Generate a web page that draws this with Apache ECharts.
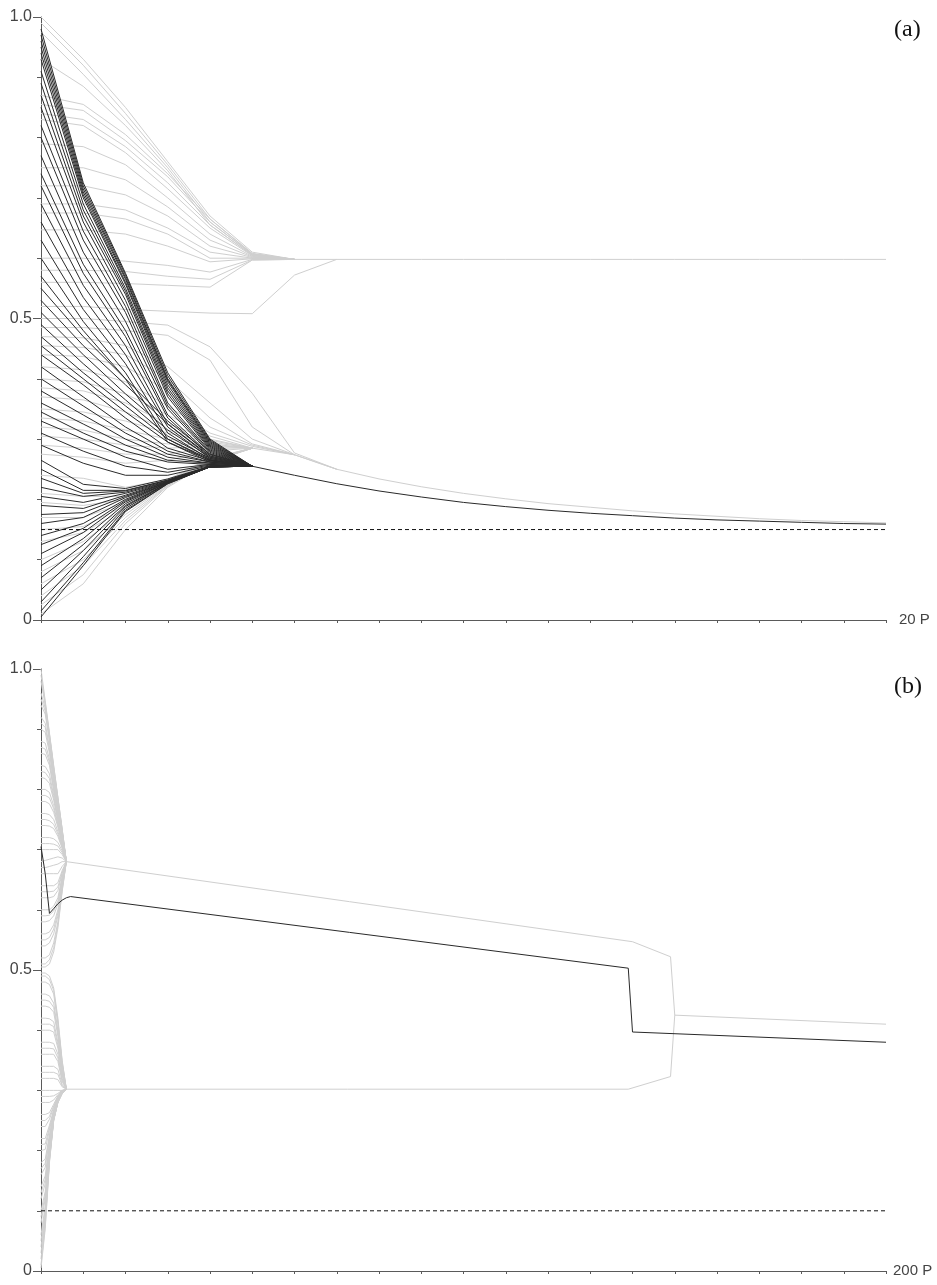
<!DOCTYPE html>
<html>
<head>
<meta charset="utf-8">
<style>
html,body{margin:0;padding:0;background:#fff;}
#chart{width:937px;height:1285px;}
</style>
<script src="https://cdn.jsdelivr.net/npm/echarts@6/dist/echarts.min.js"></script>
</head>
<body>
<div id="chart"></div>
<script>
// ---------------- Panel (a): 20 periods ----------------
const periodsA = 20;
const truthA = 0.15;
const endLabelA = '20 P';
const panelLabelA = '(a)';

// shared tails (index = period)
const upperTailA = [null,null,null,null,null,null,0.598,0.598,0.598,0.598,0.598,0.598,0.598,0.598,0.598,0.598,0.598,0.598,0.598,0.598,0.598];
const blackTailA = [null,null,null,null,null,0.255,0.240,0.226,0.214,0.204,0.195,0.188,0.182,0.177,0.173,0.169,0.166,0.164,0.162,0.160,0.159];
const grayTailA  = [null,null,null,null,null,0.285,0.274,0.250,0.234,0.221,0.210,0.201,0.193,0.187,0.181,0.176,0.172,0.168,0.165,0.163,0.161];

// gray agents converging to the upper cluster
const grayUpperA = [
  [1.00,0.93,0.85,0.76,0.67,0.61],
  [0.99,0.92,0.84,0.755,0.665,0.607],
  [0.975,0.905,0.83,0.75,0.66,0.606],
  [0.93,0.885,0.82,0.745,0.655,0.605],
  [0.87,0.855,0.805,0.74,0.665,0.608],
  [0.855,0.845,0.795,0.735,0.66,0.607],
  [0.84,0.83,0.785,0.725,0.655,0.605],
  [0.83,0.82,0.775,0.715,0.65,0.604],
  [0.79,0.785,0.755,0.70,0.64,0.603],
  [0.75,0.75,0.73,0.685,0.63,0.602],
  [0.72,0.72,0.705,0.67,0.62,0.601],
  [0.69,0.69,0.68,0.65,0.61,0.60],
  [0.675,0.675,0.665,0.64,0.60,0.60],
  [0.647,0.647,0.64,0.62,0.594,0.599],
  [0.60,0.60,0.595,0.588,0.577,0.598],
  [0.58,0.58,0.578,0.57,0.565,0.597],
  [0.56,0.56,0.558,0.555,0.552,0.597],
  [0.52,0.52,0.515,0.512,0.509,0.508,0.572]
];
// gray agents joining the lower (truth-seeker) cluster from above
const grayMidA = [
  [0.50,0.50,0.495,0.489,0.453,0.376,0.277],
  [0.485,0.485,0.48,0.472,0.431,0.32,0.274],
  [0.47,0.468,0.455,0.42,0.36,0.30],
  [0.455,0.452,0.44,0.40,0.335,0.292],
  [0.44,0.437,0.42,0.38,0.32,0.29],
  [0.42,0.415,0.395,0.355,0.31,0.288],
  [0.40,0.395,0.375,0.34,0.305],
  [0.385,0.38,0.36,0.325,0.30],
  [0.37,0.365,0.345,0.315,0.298],
  [0.35,0.345,0.33,0.31,0.295],
  [0.335,0.33,0.315,0.30,0.292],
  [0.32,0.315,0.30,0.292,0.29],
  [0.305,0.30,0.29,0.285,0.288],
  [0.29,0.285,0.275,0.275,0.285],
  [0.275,0.27,0.26,0.265,0.28]
];
// gray agents joining from below
const grayLowA = [
  [0.01,0.06,0.15,0.22,0.262],
  [0.025,0.075,0.16,0.222,0.262],
  [0.04,0.09,0.165,0.223,0.263],
  [0.06,0.10,0.17,0.224,0.263],
  [0.08,0.115,0.175,0.225,0.264],
  [0.10,0.13,0.18,0.226,0.264],
  [0.13,0.145,0.185,0.227,0.265],
  [0.15,0.155,0.19,0.228,0.265],
  [0.17,0.17,0.195,0.229,0.266],
  [0.195,0.19,0.20,0.23,0.266],
  [0.21,0.205,0.205,0.231,0.267],
  [0.24,0.235,0.22,0.233,0.268]
];
// truth seekers
const blackHighA = [
  [0.98,0.725,0.575,0.41,0.30],
  [0.97,0.72,0.572,0.405,0.298],
  [0.96,0.715,0.568,0.40,0.296],
  [0.95,0.71,0.565,0.398,0.294],
  [0.94,0.705,0.56,0.395,0.292],
  [0.93,0.70,0.557,0.39,0.29],
  [0.91,0.69,0.55,0.385,0.288],
  [0.89,0.68,0.545,0.38,0.286],
  [0.87,0.67,0.54,0.375,0.284],
  [0.85,0.66,0.53,0.37,0.282],
  [0.82,0.645,0.52,0.36,0.28],
  [0.80,0.63,0.51,0.355,0.278],
  [0.77,0.61,0.495,0.35,0.276],
  [0.74,0.59,0.48,0.34,0.274],
  [0.72,0.575,0.47,0.335,0.272],
  [0.69,0.555,0.455,0.325,0.27],
  [0.66,0.535,0.44,0.32,0.268],
  [0.63,0.515,0.425,0.31,0.266],
  [0.60,0.495,0.41,0.30,0.264],
  [0.57,0.48,0.40,0.295,0.262]
];
const blackMidA = [
  [0.55,0.47,0.40,0.33,0.275],
  [0.53,0.455,0.39,0.325,0.272],
  [0.51,0.44,0.375,0.315,0.27],
  [0.49,0.425,0.365,0.305,0.268],
  [0.47,0.41,0.355,0.30,0.266],
  [0.455,0.40,0.345,0.295,0.265],
  [0.44,0.39,0.335,0.285,0.264],
  [0.42,0.37,0.32,0.28,0.262],
  [0.40,0.355,0.31,0.275,0.262],
  [0.38,0.34,0.30,0.27,0.26],
  [0.36,0.325,0.29,0.265,0.26],
  [0.345,0.31,0.28,0.262,0.258],
  [0.33,0.30,0.27,0.25,0.258],
  [0.31,0.28,0.255,0.245,0.257],
  [0.29,0.26,0.24,0.24,0.256]
];
const blackLowA = [
  [0.005,0.09,0.18,0.226,0.254],
  [0.015,0.095,0.182,0.226,0.254],
  [0.03,0.105,0.185,0.227,0.254],
  [0.05,0.115,0.188,0.227,0.254],
  [0.07,0.125,0.19,0.227,0.254],
  [0.09,0.135,0.193,0.228,0.254],
  [0.11,0.145,0.196,0.228,0.254],
  [0.125,0.152,0.198,0.228,0.254],
  [0.14,0.16,0.20,0.229,0.254],
  [0.16,0.17,0.203,0.229,0.254],
  [0.175,0.178,0.205,0.229,0.254],
  [0.19,0.185,0.207,0.23,0.254],
  [0.205,0.195,0.21,0.23,0.255],
  [0.22,0.205,0.212,0.231,0.255],
  [0.235,0.21,0.214,0.232,0.255],
  [0.25,0.215,0.215,0.232,0.255],
  [0.265,0.225,0.218,0.234,0.255]
];

// ---------------- Panel (b): 200 periods ----------------
const periodsB = 200;
const truthB = 0.1;
const endLabelB = '200 P';
const panelLabelB = '(b)';

const upperTailBx = [6,140,149,150,200];
const upperTailBy = [0.68,0.547,0.522,0.425,0.41];
const lowerTailBx = [6,139,149,150];
const lowerTailBy = [0.302,0.302,0.323,0.425];
const seekerBx = [0,1,2,3,4,5,6,7,139,140,200];
const seekerBy = [0.705,0.66,0.594,0.602,0.61,0.616,0.62,0.622,0.503,0.397,0.38];

const grayUpperB = [
  [1.00,0.947,0.894,0.84,0.787,0.735],
  [0.99,0.944,0.892,0.838,0.786,0.734],
  [0.98,0.94,0.89,0.835,0.785,0.733],
  [0.96,0.935,0.885,0.83,0.78,0.73],
  [0.95,0.93,0.883,0.828,0.778,0.729],
  [0.94,0.925,0.88,0.826,0.776,0.728],
  [0.92,0.91,0.87,0.82,0.772,0.726],
  [0.91,0.903,0.866,0.816,0.77,0.725],
  [0.90,0.895,0.86,0.812,0.768,0.724],
  [0.88,0.877,0.85,0.805,0.763,0.722],
  [0.87,0.867,0.845,0.80,0.76,0.721],
  [0.86,0.858,0.84,0.798,0.758,0.72],
  [0.84,0.838,0.826,0.79,0.753,0.718],
  [0.83,0.828,0.818,0.786,0.75,0.716],
  [0.82,0.818,0.81,0.782,0.748,0.715],
  [0.80,0.80,0.795,0.773,0.743,0.712],
  [0.79,0.79,0.786,0.768,0.74,0.71],
  [0.78,0.78,0.776,0.762,0.737,0.709],
  [0.76,0.76,0.758,0.75,0.73,0.706],
  [0.75,0.75,0.748,0.742,0.726,0.704],
  [0.74,0.74,0.739,0.735,0.722,0.702],
  [0.72,0.72,0.72,0.718,0.712,0.698],
  [0.71,0.71,0.71,0.709,0.706,0.695],
  [0.70,0.70,0.70,0.70,0.70,0.692],
  [0.68,0.682,0.684,0.686,0.688,0.686],
  [0.67,0.67,0.672,0.674,0.676,0.68],
  [0.66,0.66,0.66,0.66,0.66,0.672],
  [0.64,0.64,0.64,0.64,0.645,0.665],
  [0.63,0.63,0.63,0.631,0.638,0.662],
  [0.62,0.62,0.62,0.622,0.632,0.66],
  [0.60,0.60,0.60,0.606,0.62,0.655],
  [0.59,0.59,0.591,0.598,0.615,0.652],
  [0.58,0.58,0.582,0.59,0.61,0.65],
  [0.56,0.56,0.563,0.575,0.60,0.645],
  [0.55,0.55,0.554,0.568,0.595,0.642],
  [0.54,0.54,0.545,0.56,0.59,0.64],
  [0.52,0.52,0.525,0.545,0.58,0.635],
  [0.51,0.51,0.517,0.537,0.575,0.632],
  [0.505,0.505,0.51,0.53,0.57,0.63]
];
const grayLowerB = [
  [0.495,0.495,0.49,0.47,0.42,0.35],
  [0.49,0.49,0.484,0.466,0.415,0.348],
  [0.48,0.48,0.476,0.46,0.41,0.345],
  [0.46,0.46,0.457,0.445,0.40,0.34],
  [0.45,0.45,0.448,0.438,0.395,0.337],
  [0.44,0.44,0.438,0.43,0.39,0.335],
  [0.42,0.42,0.419,0.414,0.38,0.33],
  [0.41,0.41,0.41,0.406,0.375,0.327],
  [0.40,0.40,0.40,0.397,0.37,0.325],
  [0.38,0.38,0.38,0.378,0.36,0.32],
  [0.37,0.37,0.37,0.369,0.354,0.317],
  [0.36,0.36,0.36,0.36,0.348,0.315],
  [0.34,0.34,0.34,0.34,0.335,0.31],
  [0.33,0.33,0.33,0.33,0.327,0.308],
  [0.32,0.32,0.32,0.32,0.318,0.306],
  [0.30,0.30,0.30,0.30,0.30,0.30],
  [0.29,0.29,0.29,0.291,0.295,0.30],
  [0.28,0.28,0.28,0.284,0.293,0.299],
  [0.26,0.26,0.263,0.277,0.291,0.299],
  [0.25,0.25,0.257,0.274,0.29,0.299],
  [0.24,0.24,0.252,0.272,0.289,0.298],
  [0.22,0.22,0.242,0.268,0.288,0.298],
  [0.21,0.211,0.238,0.266,0.287,0.298],
  [0.20,0.202,0.234,0.265,0.287,0.298],
  [0.18,0.186,0.226,0.262,0.286,0.297],
  [0.17,0.179,0.222,0.261,0.285,0.297],
  [0.16,0.172,0.218,0.26,0.285,0.297],
  [0.14,0.158,0.211,0.258,0.284,0.297],
  [0.13,0.152,0.208,0.257,0.284,0.297],
  [0.12,0.145,0.205,0.256,0.283,0.296],
  [0.10,0.132,0.20,0.255,0.283,0.296],
  [0.09,0.126,0.198,0.254,0.282,0.296],
  [0.08,0.12,0.196,0.254,0.282,0.296],
  [0.06,0.108,0.192,0.253,0.282,0.296],
  [0.05,0.102,0.19,0.252,0.281,0.295],
  [0.04,0.095,0.188,0.252,0.281,0.295],
  [0.03,0.088,0.186,0.251,0.281,0.295],
  [0.02,0.082,0.184,0.251,0.28,0.295],
  [0.01,0.075,0.182,0.25,0.28,0.295],
  [0.005,0.07,0.18,0.25,0.28,0.295]
];

const yTickLabels = {'0':'0','0.5':'0.5','1':'1.0'};

// ---------------- build ----------------
const GRAY = '#cfcfcf';
const BLACK = '#2a2a2a';
const AXIS = '#5a5a5a';
const FONT = '"Liberation Sans", Arial, sans-serif';

function headToTail(head, tail) {
  const pts = head.map((v, i) => [i, v]);
  const k = head.length;
  pts.push([k, tail[k]]);
  return pts;
}
function headToPoint(head, jx, jy) {
  const pts = head.map((v, i) => [i, v]);
  pts.push([jx, jy]);
  return pts;
}
function tailPts(tail) {
  return tail.map((v, i) => [i, v]).filter(p => p[1] != null);
}
function zip(xs, ys) { return xs.map((x, i) => [x, ys[i]]); }

const series = [];
function addLine(grid, data, color, z, dashed) {
  series.push({
    type: 'line', xAxisIndex: grid, yAxisIndex: grid, data: data,
    showSymbol: false, symbol: 'none', silent: true, animation: false,
    lineStyle: { color: color, width: 1, type: dashed ? [4, 3] : 'solid' },
    z: z
  });
}

// panel (a)
grayUpperA.forEach(h => addLine(0, headToTail(h, upperTailA), GRAY, 2));
grayMidA.forEach(h => addLine(0, headToTail(h, grayTailA), GRAY, 2));
grayLowA.forEach(h => addLine(0, headToTail(h, grayTailA), GRAY, 2));
addLine(0, tailPts(upperTailA), GRAY, 2);
addLine(0, tailPts(grayTailA), GRAY, 2);
blackHighA.forEach(h => addLine(0, headToTail(h, blackTailA), BLACK, 3));
blackMidA.forEach(h => addLine(0, headToTail(h, blackTailA), BLACK, 3));
blackLowA.forEach(h => addLine(0, headToTail(h, blackTailA), BLACK, 3));
addLine(0, tailPts(blackTailA), BLACK, 3);
addLine(0, [[0, truthA], [periodsA, truthA]], '#111', 4, true);

// panel (b)
grayUpperB.forEach(h => addLine(1, headToPoint(h, upperTailBx[0], upperTailBy[0]), GRAY, 2));
grayLowerB.forEach(h => addLine(1, headToPoint(h, lowerTailBx[0], lowerTailBy[0]), GRAY, 2));
addLine(1, zip(upperTailBx, upperTailBy), GRAY, 2);
addLine(1, zip(lowerTailBx, lowerTailBy), GRAY, 2);
addLine(1, zip(seekerBx, seekerBy), BLACK, 3);
addLine(1, [[0, truthB], [periodsB, truthB]], '#111', 4, true);

function yLabel(v) {
  const key = String(Math.round(v * 10) / 10);
  return yTickLabels[key] !== undefined ? yTickLabels[key] : '';
}
function xAxis(grid, max, name, gap) {
  return {
    type: 'value', gridIndex: grid, min: 0, max: max, interval: max / 20,
    name: name, nameLocation: 'end', nameGap: gap,
    nameTextStyle: { color: '#444', fontSize: 15, fontFamily: FONT, verticalAlign: 'middle' },
    axisLine: { show: true, lineStyle: { color: AXIS, width: 1 } },
    axisTick: { show: true, length: 3, lineStyle: { color: AXIS } },
    axisLabel: { show: false },
    splitLine: { show: false }
  };
}
function yMinor(grid) {
  return {
    type: 'value', gridIndex: grid, position: 'left', min: 0, max: 1, interval: 0.1,
    axisLine: { show: true, lineStyle: { color: AXIS, width: 1 } },
    axisTick: { show: true, length: 4, lineStyle: { color: AXIS } },
    axisLabel: { show: false },
    splitLine: { show: false }
  };
}
function yMajor(grid) {
  return {
    type: 'value', gridIndex: grid, position: 'left', offset: 0, min: 0, max: 1, interval: 0.5,
    axisLine: { show: false },
    axisTick: { show: true, length: 8, lineStyle: { color: AXIS } },
    axisLabel: { show: true, margin: 9, color: '#444', fontSize: 16, fontFamily: FONT, formatter: yLabel, showMaxLabel: true, showMinLabel: true },
    splitLine: { show: false }
  };
}

const option = {
  backgroundColor: '#ffffff',
  animation: false,
  grid: [
    { left: 41, top: 17, width: 845, height: 603, containLabel: false, outerBoundsMode: 'none' },
    { left: 41, top: 669, width: 845, height: 602, containLabel: false, outerBoundsMode: 'none' }
  ],
  xAxis: [xAxis(0, periodsA, endLabelA, 13), xAxis(1, periodsB, endLabelB, 7)],
  yAxis: [yMinor(0), yMinor(1), yMajor(0), yMajor(1)],
  graphic: [
    { type: 'text', left: 894, top: 18, style: { text: panelLabelA, fill: '#111', font: '24px "Liberation Serif", "Times New Roman", serif' } },
    { type: 'text', left: 894, top: 675, style: { text: panelLabelB, fill: '#111', font: '24px "Liberation Serif", "Times New Roman", serif' } }
  ],
  series: series
};

const chart = echarts.init(document.getElementById('chart'), null, { renderer: 'canvas', width: 937, height: 1285 });
chart.setOption(option);
</script>
</body>
</html>
